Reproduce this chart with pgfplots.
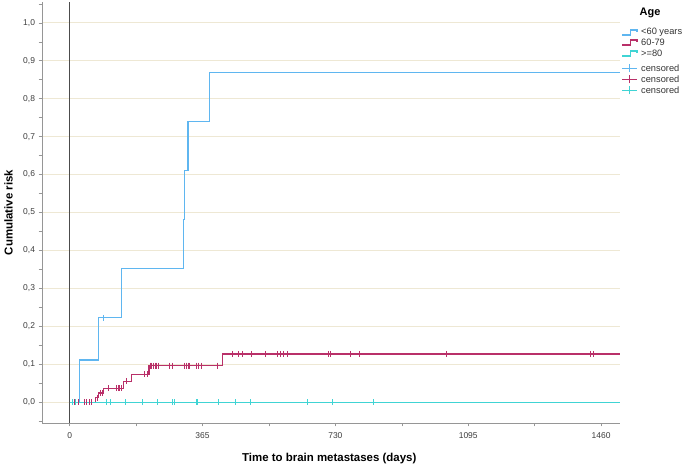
\documentclass[border=0pt]{standalone}
\usepackage{fontspec}
\setmainfont{Liberation Sans}
\usepackage{pgfplots}
\pgfplotsset{compat=1.18}
\definecolor{cblue}{RGB}{95,182,240}
\definecolor{cmaroon}{RGB}{185,48,105}
\definecolor{ccyan}{RGB}{64,212,212}
\definecolor{gridc}{RGB}{238,232,212}
\definecolor{axc}{RGB}{150,150,150}
\definecolor{tickc}{RGB}{60,60,60}
\begin{document}
\begin{tikzpicture}[x=1bp,y=1bp]
\path[use as bounding box] (0,0) rectangle (685,465);
\begin{axis}[
  at={(42bp,42bp)}, anchor=south west,
  width=578bp, height=421bp, scale only axis,
  xmin=-76, xmax=1512, ymin=-0.055, ymax=1.055,
  axis lines*=left,
  axis line style={axc, line width=0.8pt},
  xtick={0,365,730,1095,1460},
  minor xtick={182.5,547.5,912.5,1277.5},
  ytick={0,0.1,...,1.0},
  minor ytick={-0.05,0.05,...,1.06},
  tick align=outside,
  major tick length=3.5bp, minor tick length=3.5bp,
  tick style={axc, line width=0.6pt},
  ymajorgrids, major grid style={gridc, line width=0.8pt},
  /pgf/number format/assume math mode=true,
  yticklabel style={/pgf/number format/.cd, fixed, fixed zerofill, precision=1, use comma},
  xticklabel style={/pgf/number format/.cd, fixed, 1000 sep={}, /tikz/yshift=-3bp},
  ticklabel style={font=\fontsize{8.5}{10}\selectfont, text=tickc},
  xlabel={\textbf{Time to brain metastases (days)}},
  ylabel={\textbf{Cumulative risk}},
  xlabel style={font=\fontsize{11.5}{13}\selectfont, at={(axis description cs:0.497,-0.085)}, anchor=center},
  ylabel style={font=\fontsize{11.5}{13}\selectfont, at={(axis description cs:-0.058,0.5)}, anchor=center},
  clip=false,
]
% reference line at 0
\addplot[black!70, line width=0.8pt] coordinates {(0,-0.055) (0,1.055)};

% step curves
\addplot[const plot, draw=cblue, line width=1.1pt]
  coordinates {(0,0) (28,0.111) (80,0.222) (142,0.352) (312,0.482) (316,0.611) (325,0.741) (385,0.870) (1512,0.870)};
\addplot[const plot, draw=cmaroon, line width=1.1pt]
  coordinates {(0,0) (71,0.012) (80,0.024) (94,0.036) (147,0.055) (169,0.074) (218,0.096) (419,0.127) (1512,0.127)};
\addplot[const plot, draw=ccyan, line width=1.1pt]
  coordinates {(0,0) (1512,0)};

% censored marks
\addplot[only marks, mark=|, mark size=3bp, draw=cblue, mark options={draw=cblue, line width=0.9pt}]
  coordinates {(93,0.222)};
\addplot[only marks, mark=|, mark size=3bp, draw=cmaroon, mark options={draw=cmaroon, line width=0.9pt}]
  coordinates {
  (14,0) (23,0) (41,0) (46,0) (53,0) (60,0)
  (75,0.012) (84,0.024) (91,0.024)
  (107,0.036) (128,0.036) (133,0.036) (137,0.036) (142,0.036)
  (156,0.055) (206,0.074) (213,0.074)
  (222,0.096) (226,0.096) (230,0.096) (235,0.096) (239,0.096) (244,0.096)
  (274,0.096) (283,0.096) (316,0.096) (321,0.096) (326,0.096) (330,0.096)
  (348,0.096) (355,0.096) (362,0.096) (405,0.096)
  (447,0.127) (463,0.127) (475,0.127) (500,0.127) (538,0.127)
  (571,0.127) (579,0.127) (588,0.127) (598,0.127)
  (710,0.127) (717,0.127) (772,0.127) (797,0.127) (1034,0.127) (1430,0.127) (1439,0.127)};
\addplot[only marks, mark=|, mark size=3bp, draw=ccyan, mark options={draw=ccyan, line width=0.9pt}]
  coordinates {(9,0) (16,0) (101,0) (112,0) (153,0) (199,0) (240,0) (283,0) (287,0)
  (349,0) (352,0) (410,0) (456,0) (498,0) (652,0) (723,0) (835,0)};
\end{axis}
% legend
\node[font=\fontsize{11}{12}\selectfont\bfseries, anchor=center] at (650,452) {Age};
\foreach \yy/\col/\txt in {432.5/cblue/{<60 years}, 422.5/cmaroon/{60-79}, 411.5/ccyan/{>=80}} {
  \draw[\col, line width=1.3pt] (622,\yy-2.5) -- (630.5,\yy-2.5) -- (630.5,\yy+2.5) -- (637,\yy+2.5) -- (637,\yy+0.5);
  \node[font=\fontsize{9.3}{10}\selectfont, anchor=west, inner sep=0pt, text=black!80] at (641,\yy) {\txt};
}
\foreach \yy/\col in {396.5/cblue, 385.5/cmaroon, 374.5/ccyan} {
  \draw[\col, line width=1.3pt] (622,\yy) -- (637,\yy);
  \draw[\col, line width=1.3pt] (629.5,\yy-4) -- (629.5,\yy+4);
  \node[font=\fontsize{9.3}{10}\selectfont, anchor=west, inner sep=0pt, text=black!80] at (641,\yy) {censored};
}
\end{tikzpicture}
\end{document}
